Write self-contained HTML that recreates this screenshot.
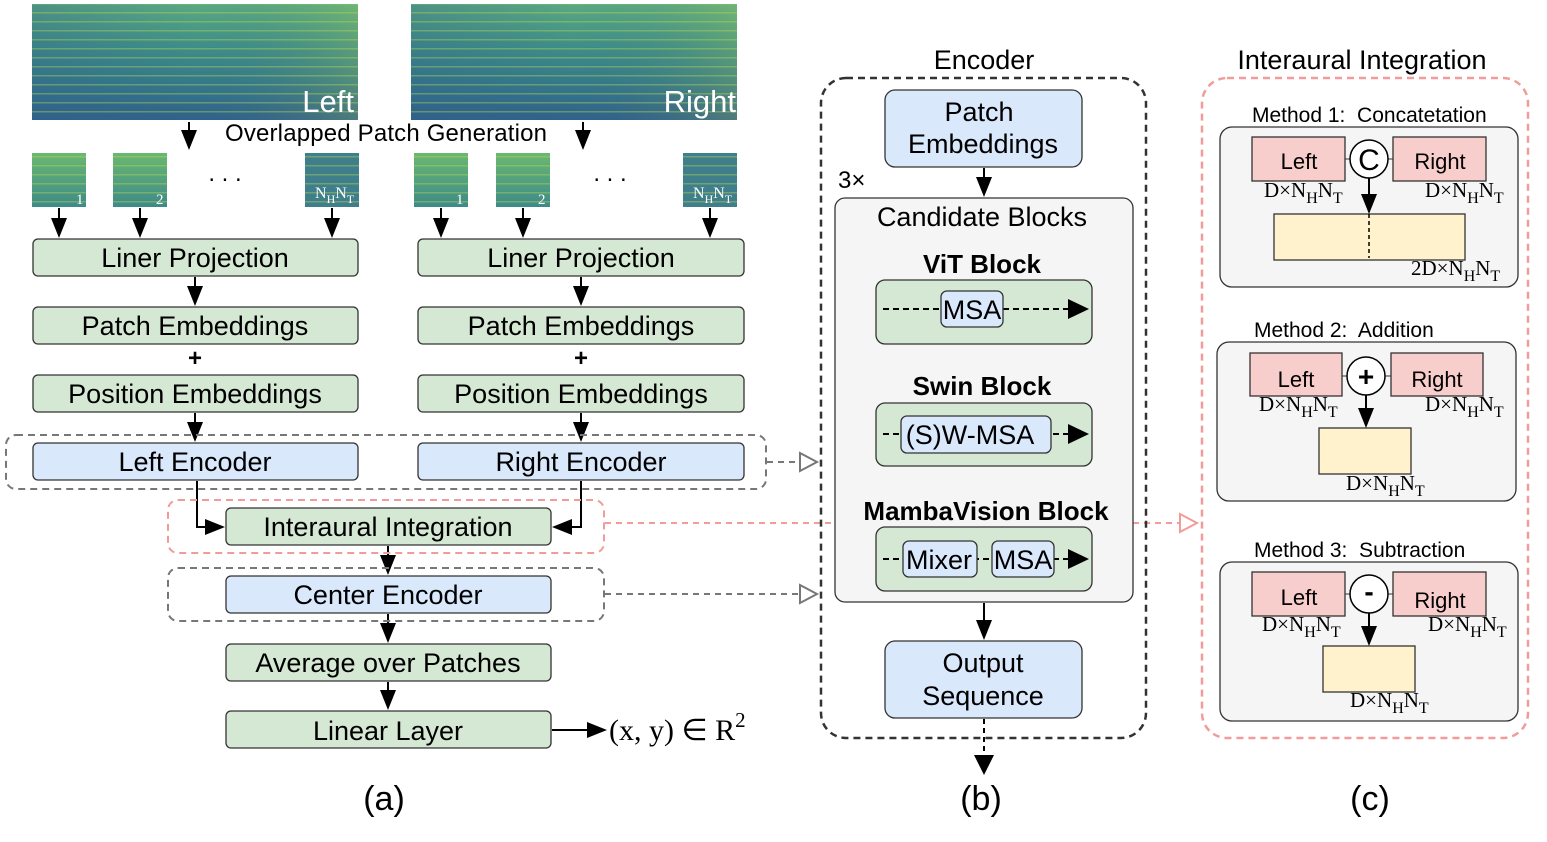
<!DOCTYPE html>
<html><head><meta charset="utf-8"><style>
html,body{margin:0;padding:0;background:#fff}
svg{display:block}
text{font-family:"Liberation Sans",sans-serif;fill:#000}
text.s,.s text{font-family:"Liberation Serif",serif}
</style></head><body>
<svg width="1547" height="842" viewBox="0 0 1547 842" xmlns="http://www.w3.org/2000/svg">
<defs>
<path id="dn" d="M-8,-20L8,-20L0,0z"/>
<path id="rt" d="M-20,-8L-20,8L0,0z"/>
<path id="lt" d="M20,-8L20,8L0,0z"/>
<linearGradient id="sg" x1="0" y1="0" x2="0" y2="1">
<stop offset="0" stop-color="#5aa982"/><stop offset="0.35" stop-color="#3f8f88"/><stop offset="0.7" stop-color="#34778b"/><stop offset="1" stop-color="#30628a"/></linearGradient>
<linearGradient id="sh" x1="0" y1="0" x2="1" y2="0">
<stop offset="0" stop-color="#2f5e8a" stop-opacity="0.3"/><stop offset="0.5" stop-color="#2f5e8a" stop-opacity="0"/><stop offset="1" stop-color="#c8e040" stop-opacity="0.2"/></linearGradient>
<pattern id="st" width="12" height="9" patternUnits="userSpaceOnUse"><rect y="3" width="12" height="1.5" fill="#b8d850" opacity="0.4"/></pattern>
<linearGradient id="pg" x1="0" y1="0" x2="0" y2="1"><stop offset="0" stop-color="#6ab870"/><stop offset="1" stop-color="#3d8a8a"/></linearGradient>
</defs>
<style>
.g{fill:#d5e8d4;stroke:#333;stroke-width:1.3}
.b{fill:#dae8fc;stroke:#333;stroke-width:1.3}
.p{fill:#f8cecc;stroke:#333;stroke-width:1.3}
.y{fill:#fff2cc;stroke:#333;stroke-width:1.3}
.gr{fill:#f5f5f5;stroke:#333;stroke-width:1.3}
.ln{stroke:#000;stroke-width:2;fill:none}
</style>
<rect x="32" y="4" width="326" height="116" fill="url(#sg)"/><rect x="32" y="4" width="326" height="116" fill="url(#sh)"/><rect x="32" y="4" width="326" height="116" fill="url(#st)"/>
<rect x="411" y="4" width="326" height="116" fill="url(#sg)"/><rect x="411" y="4" width="326" height="116" fill="url(#sh)"/><rect x="411" y="4" width="326" height="116" fill="url(#st)"/>
<text x="354" y="112" font-size="31" text-anchor="end" style="fill:#fff">Left</text>
<text x="736" y="112" font-size="31" text-anchor="end" style="fill:#fff">Right</text>
<text x="386" y="141" font-size="24" text-anchor="middle" textLength="322">Overlapped Patch Generation</text>
<g>
<rect x="32" y="153" width="54" height="54" fill="url(#pg)"/><rect x="32" y="153" width="54" height="54" fill="url(#st)"/>
<rect x="113" y="153" width="54" height="54" fill="url(#pg)"/><rect x="113" y="153" width="54" height="54" fill="url(#st)"/>
<rect x="305" y="153" width="54" height="54" fill="#3f7f8c"/><rect x="305" y="153" width="54" height="54" fill="url(#st)"/>
<rect x="414" y="153" width="54" height="54" fill="url(#pg)"/><rect x="414" y="153" width="54" height="54" fill="url(#st)"/>
<rect x="496" y="153" width="54" height="54" fill="url(#pg)"/><rect x="496" y="153" width="54" height="54" fill="url(#st)"/>
<rect x="683" y="153" width="54" height="54" fill="#3f7f8c"/><rect x="683" y="153" width="54" height="54" fill="url(#st)"/>
<text class="s" x="76" y="204" font-size="15" style="fill:#fff">1</text>
<text class="s" x="156" y="204" font-size="15" style="fill:#fff">2</text>
<text class="s" x="456" y="204" font-size="15" style="fill:#fff">1</text>
<text class="s" x="538" y="204" font-size="15" style="fill:#fff">2</text>
<text class="s" x="315" y="198" font-size="16" style="fill:#fff">N<tspan dy="5" font-size="12">H</tspan><tspan dy="-5">N</tspan><tspan dy="5" font-size="12">T</tspan></text>
<text class="s" x="693" y="198" font-size="16" style="fill:#fff">N<tspan dy="5" font-size="12">H</tspan><tspan dy="-5">N</tspan><tspan dy="5" font-size="12">T</tspan></text>
<text x="225" y="181" font-size="24" text-anchor="middle">. . .</text>
<text x="610" y="181" font-size="24" text-anchor="middle">. . .</text>
</g>
<g class="ln">
<line x1="189" y1="122" x2="189" y2="140"/><line x1="583" y1="122" x2="583" y2="140"/>
<line x1="59" y1="208" x2="59" y2="230"/><line x1="140" y1="208" x2="140" y2="230"/><line x1="332" y1="208" x2="332" y2="230"/>
<line x1="441" y1="208" x2="441" y2="230"/><line x1="523" y1="208" x2="523" y2="230"/><line x1="710" y1="208" x2="710" y2="230"/>
<line x1="195" y1="277" x2="195" y2="296"/><line x1="581" y1="277" x2="581" y2="296"/>
<line x1="195" y1="413" x2="195" y2="432"/><line x1="581" y1="413" x2="581" y2="432"/>
<line x1="388" y1="546" x2="388" y2="565"/><line x1="388" y1="614" x2="388" y2="633"/><line x1="388" y1="682" x2="388" y2="700"/>
<polyline points="197,481 197,527 215,527"/><polyline points="581,481 581,527 562,527"/>
<line x1="552" y1="730" x2="597" y2="730"/>
</g>
<g>
<use href="#dn" x="189" y="150"/><use href="#dn" x="583" y="150"/>
<use href="#dn" x="59" y="238"/><use href="#dn" x="140" y="238"/><use href="#dn" x="332" y="238"/>
<use href="#dn" x="441" y="238"/><use href="#dn" x="523" y="238"/><use href="#dn" x="710" y="238"/>
<use href="#dn" x="195" y="306"/><use href="#dn" x="581" y="306"/>
<use href="#dn" x="195" y="442"/><use href="#dn" x="581" y="442"/>
<use href="#dn" x="388" y="575"/><use href="#dn" x="388" y="643"/><use href="#dn" x="388" y="710"/>
<use href="#rt" x="225" y="527"/><use href="#lt" x="552" y="527"/><use href="#rt" x="607" y="730"/>
<use href="#dn" x="984" y="197"/><use href="#dn" x="984" y="640"/>
</g>
<g font-size="27" text-anchor="middle">
<rect class="g" x="33" y="239" width="325" height="37" rx="5"/><text x="195" y="267">Liner Projection</text>
<rect class="g" x="33" y="307" width="325" height="37" rx="5"/><text x="195" y="335">Patch Embeddings</text>
<text x="195" y="366" font-weight="bold" font-size="24">+</text>
<rect class="g" x="33" y="375" width="325" height="37" rx="5"/><text x="195" y="403">Position Embeddings</text>
<rect class="b" x="33" y="443" width="325" height="37" rx="5"/><text x="195" y="471">Left Encoder</text>
<rect class="g" x="418" y="239" width="326" height="37" rx="5"/><text x="581" y="267">Liner Projection</text>
<rect class="g" x="418" y="307" width="326" height="37" rx="5"/><text x="581" y="335">Patch Embeddings</text>
<text x="581" y="366" font-weight="bold" font-size="24">+</text>
<rect class="g" x="418" y="375" width="326" height="37" rx="5"/><text x="581" y="403">Position Embeddings</text>
<rect class="b" x="418" y="443" width="326" height="37" rx="5"/><text x="581" y="471">Right Encoder</text>
<rect class="g" x="226" y="508" width="325" height="37" rx="5"/><text x="388" y="536">Interaural Integration</text>
<rect class="b" x="226" y="576" width="325" height="37" rx="5"/><text x="388" y="604">Center Encoder</text>
<rect class="g" x="226" y="644" width="325" height="37" rx="5"/><text x="388" y="672">Average over Patches</text>
<rect class="g" x="226" y="711" width="325" height="37" rx="5"/><text x="388" y="740">Linear Layer</text>
</g>
<text class="s" x="609" y="740" font-size="30">(x, y) ∈ R<tspan dy="-13" font-size="21">2</tspan></text>
<rect x="6" y="435" width="760" height="54" rx="10" fill="none" stroke="#777" stroke-width="2" stroke-dasharray="7,5"/>
<rect x="168" y="500" width="436" height="53" rx="10" fill="none" stroke="#f19c99" stroke-width="2" stroke-dasharray="7,5"/>
<rect x="168" y="568" width="436" height="53" rx="10" fill="none" stroke="#777" stroke-width="2" stroke-dasharray="7,5"/>
<line x1="767" y1="462" x2="800" y2="462" stroke="#777" stroke-width="2" stroke-dasharray="6,5"/>
<path d="M800,453L817,462L800,471z" fill="#fff" stroke="#777" stroke-width="2"/>
<line x1="605" y1="594" x2="800" y2="594" stroke="#777" stroke-width="2" stroke-dasharray="6,5"/>
<path d="M800,585L817,594L800,603z" fill="#fff" stroke="#777" stroke-width="2"/>
<line x1="605" y1="523" x2="1180" y2="523" stroke="#f19c99" stroke-width="2" stroke-dasharray="6,5"/>
<path d="M1180,514L1197,523L1180,532z" fill="#fff" stroke="#f19c99" stroke-width="2"/>
<rect x="821" y="78" width="325" height="660" rx="25" fill="none" stroke="#333" stroke-width="2.5" stroke-dasharray="7,5"/>
<text x="984" y="69" font-size="27" text-anchor="middle">Encoder</text>
<rect class="b" x="885" y="90" width="197" height="77" rx="10"/>
<text x="979" y="121" font-size="27" text-anchor="middle">Patch</text>
<text x="983" y="153" font-size="27" text-anchor="middle">Embeddings</text>
<text x="838" y="188" font-size="24">3×</text>
<line x1="984" y1="168" x2="984" y2="185" class="ln"/>
<rect class="gr" x="835" y="198" width="298" height="404" rx="10"/>
<text x="982" y="226" font-size="27" text-anchor="middle">Candidate Blocks</text>
<text x="982" y="273" font-size="26" font-weight="bold" text-anchor="middle">ViT Block</text>
<rect class="g" x="876" y="280" width="216" height="64" rx="9"/>
<line x1="883" y1="309" x2="1070" y2="309" stroke="#000" stroke-width="2" stroke-dasharray="6,4"/>
<path d="M1068,299L1089,309L1068,319z"/>
<rect class="b" x="941" y="291" width="62" height="36" rx="6"/><text x="972" y="319" font-size="27" text-anchor="middle">MSA</text>
<text x="982" y="395" font-size="26" font-weight="bold" text-anchor="middle">Swin Block</text>
<rect class="g" x="876" y="403" width="216" height="63" rx="9"/>
<line x1="883" y1="434" x2="1070" y2="434" stroke="#000" stroke-width="2" stroke-dasharray="6,4"/>
<path d="M1068,424L1089,434L1068,444z"/>
<rect class="b" x="901" y="416" width="150" height="37" rx="6"/><text x="970" y="444" font-size="27" text-anchor="middle">(S)W-MSA</text>
<text x="986" y="520" font-size="26" font-weight="bold" text-anchor="middle">MambaVision Block</text>
<rect class="g" x="876" y="527" width="216" height="64" rx="9"/>
<line x1="883" y1="559" x2="1070" y2="559" stroke="#000" stroke-width="2" stroke-dasharray="6,4"/>
<path d="M1068,549L1089,559L1068,569z"/>
<rect class="b" x="903" y="541" width="74" height="36" rx="6"/><text x="939" y="569" font-size="27" text-anchor="middle">Mixer</text>
<rect class="b" x="992" y="541" width="62" height="36" rx="6"/><text x="1023" y="569" font-size="27" text-anchor="middle">MSA</text>
<line x1="984" y1="603" x2="984" y2="628" class="ln"/>
<rect class="b" x="885" y="641" width="197" height="77" rx="10"/>
<text x="983" y="672" font-size="27" text-anchor="middle">Output</text>
<text x="983" y="705" font-size="27" text-anchor="middle">Sequence</text>
<line x1="984" y1="719" x2="984" y2="760" stroke="#000" stroke-width="2" stroke-dasharray="5,4"/>
<path d="M974,755L984,775L994,755z"/>
<rect x="1202" y="78" width="326" height="660" rx="25" fill="none" stroke="#f19c99" stroke-width="2.5" stroke-dasharray="7,5"/>
<text x="1362" y="69" font-size="27" text-anchor="middle">Interaural Integration</text>
<g font-size="22">
<text x="1252" y="122" font-size="21" xml:space="preserve">Method 1:  Concatetation</text>
<rect class="gr" x="1220" y="127" width="298" height="160" rx="12"/>
<rect class="p" x="1252" y="137" width="93" height="44"/><text x="1299" y="169" text-anchor="middle">Left</text>
<rect class="p" x="1393" y="137" width="93" height="44"/><text x="1440" y="169" text-anchor="middle">Right</text>
<line x1="1345" y1="159" x2="1393" y2="159" stroke="#333"/>
<circle cx="1369" cy="159" r="19" fill="#fff" stroke="#000" stroke-width="1.5"/><text x="1369" y="170" font-size="30" text-anchor="middle">C</text>
<rect class="y" x="1274" y="214" width="191" height="46"/>
<line x1="1369" y1="214" x2="1369" y2="258" stroke="#000" stroke-width="1.5" stroke-dasharray="4,3"/>
<line x1="1369" y1="178" x2="1369" y2="200" class="ln"/><use href="#dn" x="1369" y="214"/>
<text x="1254" y="337" font-size="21" xml:space="preserve">Method 2:  Addition</text>
<rect class="gr" x="1217" y="342" width="299" height="159" rx="12"/>
<rect class="p" x="1250" y="353" width="92" height="43"/><text x="1296" y="387" text-anchor="middle">Left</text>
<rect class="p" x="1391" y="353" width="92" height="43"/><text x="1437" y="387" text-anchor="middle">Right</text>
<line x1="1342" y1="376" x2="1391" y2="376" stroke="#333"/>
<circle cx="1366" cy="376" r="19" fill="#fff" stroke="#000" stroke-width="1.5"/><text x="1366" y="386" font-size="28" font-weight="bold" text-anchor="middle">+</text>
<rect class="y" x="1319" y="428" width="92" height="46"/>
<line x1="1366" y1="395" x2="1366" y2="414" class="ln"/><use href="#dn" x="1366" y="428"/>
<text x="1254" y="557" font-size="21" xml:space="preserve">Method 3:  Subtraction</text>
<rect class="gr" x="1220" y="562" width="298" height="159" rx="12"/>
<rect class="p" x="1252" y="572" width="93" height="44"/><text x="1299" y="605" text-anchor="middle">Left</text>
<rect class="p" x="1393" y="572" width="93" height="44"/><text x="1440" y="608" text-anchor="middle">Right</text>
<line x1="1345" y1="594" x2="1393" y2="594" stroke="#333"/>
<circle cx="1369" cy="594" r="19" fill="#fff" stroke="#000" stroke-width="1.5"/><text x="1369" y="601" font-size="28" font-weight="bold" text-anchor="middle">-</text>
<rect class="y" x="1323" y="646" width="92" height="46"/>
<line x1="1369" y1="613" x2="1369" y2="632" class="ln"/><use href="#dn" x="1369" y="646"/>
</g>
<g class="s" font-size="21">
<text x="1264" y="197">D×N<tspan dy="6" font-size="16">H</tspan><tspan dy="-6">N</tspan><tspan dy="6" font-size="16">T</tspan></text>
<text x="1425" y="197">D×N<tspan dy="6" font-size="16">H</tspan><tspan dy="-6">N</tspan><tspan dy="6" font-size="16">T</tspan></text>
<text x="1411" y="275">2D×N<tspan dy="6" font-size="16">H</tspan><tspan dy="-6">N</tspan><tspan dy="6" font-size="16">T</tspan></text>
<text x="1259" y="411">D×N<tspan dy="6" font-size="16">H</tspan><tspan dy="-6">N</tspan><tspan dy="6" font-size="16">T</tspan></text>
<text x="1425" y="411">D×N<tspan dy="6" font-size="16">H</tspan><tspan dy="-6">N</tspan><tspan dy="6" font-size="16">T</tspan></text>
<text x="1346" y="490">D×N<tspan dy="6" font-size="16">H</tspan><tspan dy="-6">N</tspan><tspan dy="6" font-size="16">T</tspan></text>
<text x="1262" y="631">D×N<tspan dy="6" font-size="16">H</tspan><tspan dy="-6">N</tspan><tspan dy="6" font-size="16">T</tspan></text>
<text x="1428" y="631">D×N<tspan dy="6" font-size="16">H</tspan><tspan dy="-6">N</tspan><tspan dy="6" font-size="16">T</tspan></text>
<text x="1350" y="707">D×N<tspan dy="6" font-size="16">H</tspan><tspan dy="-6">N</tspan><tspan dy="6" font-size="16">T</tspan></text>
</g>
<g font-size="34" text-anchor="middle">
<text x="384" y="810">(a)</text><text x="981" y="810">(b)</text><text x="1370" y="810">(c)</text>
</g>
</svg>
</body></html>
